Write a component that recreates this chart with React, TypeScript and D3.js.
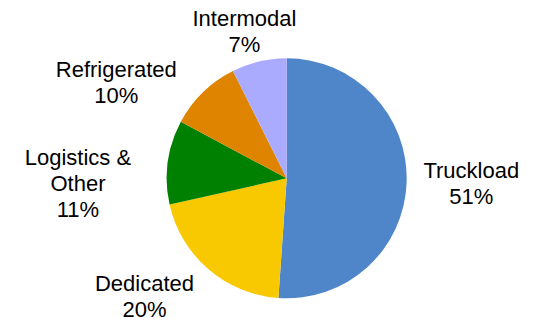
import * as d3 from "d3";

// segment shares, clockwise from 12 o'clock
const segments = ["Truckload", "Dedicated", "Logistics & Other", "Refrigerated", "Intermodal"];
const shares = [51.1, 20.4, 11.3, 9.8, 7.4];
const labelLines = [["Truckload"], ["Dedicated"], ["Logistics &", "Other"], ["Refrigerated"], ["Intermodal"]];
const colors = ["#4F86C9", "#F8C800", "#008000", "#DF8400", "#AAAAFF"];

const width = 539;
const height = 318;
const cx = 286.7;
const cy = 178.3;
const radius = 120;

// nudges off the label-arc centroid, roughly where Excel put them
const labelNudge = [
  [24.7, -0.8],
  [-37.9, -4.1],
  [-50.2, 26.3],
  [-58.7, 17.9],
  [-5.4, 8.8],
];

export default function App() {
  var pie = d3
    .pie<number>()
    .sort(null)
    .startAngle(0)
    .endAngle(2 * Math.PI)
    .value((d) => d);
  var arcs = pie(shares);
  var arc = d3.arc<d3.PieArcDatum<number>>().innerRadius(0).outerRadius(radius);
  var labelArc = d3.arc<d3.PieArcDatum<number>>().innerRadius(160).outerRadius(160);
  var total = d3.sum(shares);
  var lineH = 26;

  return (
    <svg
      width={width}
      height={height}
      style={{ position: "absolute", left: 0, top: 0, background: "#fff" }}
      fontFamily="'Liberation Sans', Arial, sans-serif"
    >
      <g transform={`translate(${cx},${cy})`}>
        {arcs.map((a, i) => (
          <path key={segments[i]} d={arc(a) || ""} fill={colors[i]} />
        ))}
        {arcs.map((a, i) => {
          var [x, y] = labelArc.centroid(a);
          x += labelNudge[i][0];
          y += labelNudge[i][1];
          var lines = labelLines[i].concat([Math.round((shares[i] / total) * 100) + "%"]);
          var y0 = y - ((lines.length - 1) * lineH) / 2 + 8;
          return (
            <text key={"l" + i} x={x} y={y0} fontSize={22} textAnchor="middle" fill="#000">
              {lines.map((t, j) => (
                <tspan key={j} x={x} y={y0 + j * lineH}>
                  {t}
                </tspan>
              ))}
            </text>
          );
        })}
      </g>
    </svg>
  );
}
